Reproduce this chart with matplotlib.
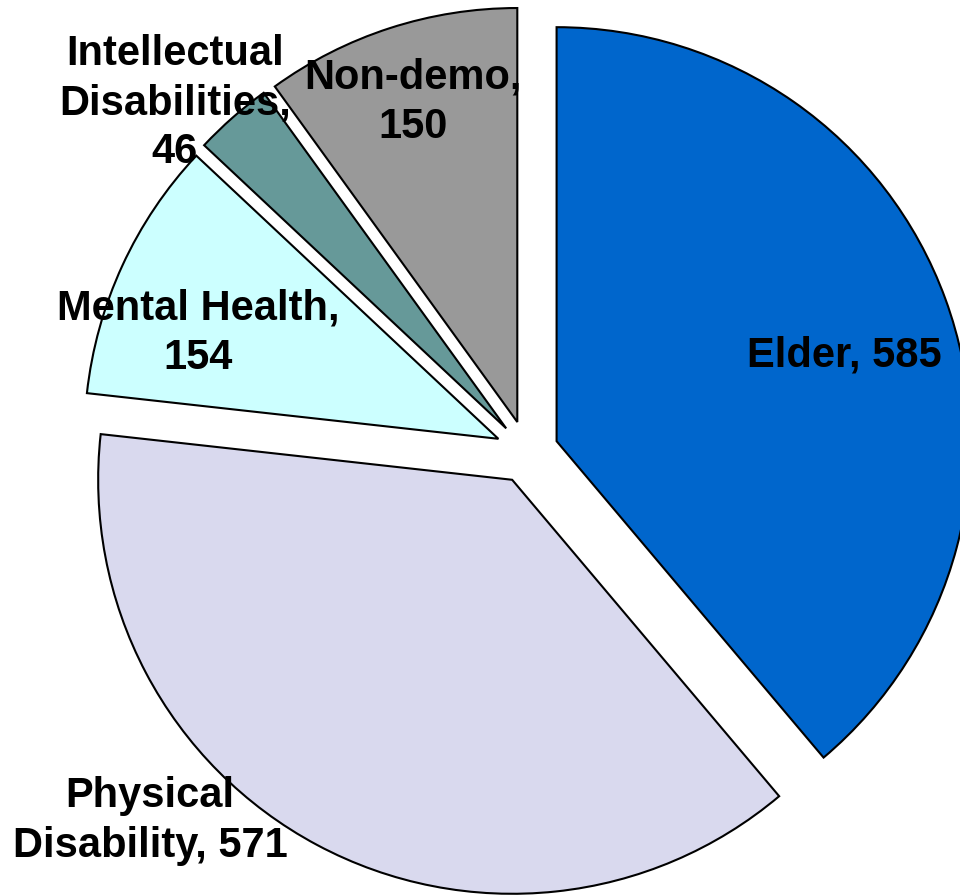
import matplotlib
matplotlib.use("Agg")
import matplotlib.pyplot as plt

categories = ["Elder", "Physical Disability", "Mental Health", "Intellectual Disabilities", "Non-demo"]
values = [585, 571, 154, 46, 150]
label_texts = ["Elder, 585", "Physical\nDisability, 571", "Mental Health,\n154",
               "Intellectual\nDisabilities,\n46", "Non-demo,\n150"]
colors = ["#0066CC", "#D9D9EE", "#CCFFFF", "#669999", "#999999"]

W, H = 960, 896
fig = plt.figure(figsize=(W / 100, H / 100), dpi=100)
ax = fig.add_axes([0, 0, 1, 1])

R = 414
ax.pie(values, center=(527, H - 452), radius=R, startangle=90, counterclock=False,
       explode=[31.5] * len(values), colors=colors,
       wedgeprops=dict(edgecolor="black", linewidth=1.5))
ax.set_xlim(0, W)
ax.set_ylim(0, H)
ax.set_aspect("equal")
ax.axis("off")

label_pos = [(844, 355), (150, 821), (198, 333), (175, 103), (413, 102)]
for txt, (x, y) in zip(label_texts, label_pos):
    ax.text(x, H - y, txt, ha="center", va="center", fontsize=30, fontweight="bold",
            family="Liberation Sans", linespacing=1.3, multialignment="center")

fig.savefig("out.png", dpi=100)
